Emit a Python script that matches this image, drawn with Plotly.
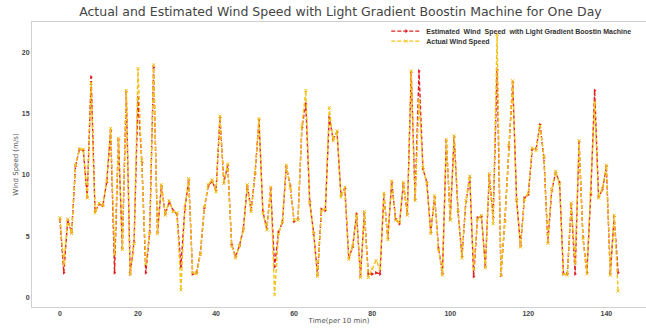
import plotly.graph_objects as go

time_idx = list(range(144))

actual = [6.5, 2.7, 6.4, 5.2, 10.8, 12.1, 12.1, 8.1, 17.5, 6.9,
          7.7, 7.5, 9.5, 13.8, 3.5, 13.0, 3.9, 16.9, 1.9, 4.4,
          18.7, 11.2, 2.7, 5.2, 19.0, 5.2, 9.2, 6.7, 7.9, 7.0,
          6.9, 0.6, 7.3, 9.7, 2.0, 1.9, 3.5, 7.4, 9.2, 9.6,
          8.6, 14.8, 9.3, 10.9, 4.2, 3.2, 4.2, 5.5, 9.2, 7.0,
          10.2, 14.6, 6.9, 5.5, 9.0, 0.2, 5.2, 6.2, 10.8, 9.0,
          6.3, 6.3, 14.0, 16.9, 7.7, 5.2, 1.7, 7.1, 7.2, 15.5,
          12.8, 13.6, 8.2, 9.0, 3.1, 4.2, 6.7, 1.6, 7.0, 1.6,
          2.3, 3.0, 2.3, 8.5, 4.7, 9.5, 6.3, 6.1, 9.4, 6.7,
          18.5, 7.9, 16.1, 10.6, 9.3, 5.2, 8.3, 3.9, 1.8, 12.9,
          6.3, 13.2, 7.1, 3.2, 7.9, 9.9, 2.3, 6.4, 6.7, 2.4,
          10.1, 6.0, 21.5, 1.8, 6.2, 12.4, 17.7, 7.9, 4.1, 8.0,
          8.5, 12.2, 12.0, 14.0, 11.5, 4.4, 8.8, 10.3, 9.3, 1.9,
          1.8, 7.7, 2.8, 12.8, 4.8, 1.9, 8.5, 15.9, 8.1, 8.9,
          10.8, 1.8, 6.7, 0.5]

estimated = [6.4, 2.0, 6.3, 5.3, 10.7, 12.1, 12.0, 8.2, 18.0, 7.0,
             7.6, 7.5, 9.4, 13.6, 2.0, 12.9, 4.0, 16.8, 1.9, 4.5,
             16.3, 11.0, 2.0, 5.3, 18.8, 5.3, 9.1, 6.8, 7.8, 7.1,
             6.8, 2.5, 7.2, 9.6, 1.9, 2.0, 3.6, 7.3, 9.1, 9.5,
             8.7, 14.7, 9.4, 10.8, 4.3, 3.3, 4.2, 5.6, 9.1, 7.1,
             10.1, 14.5, 7.0, 5.6, 8.9, 2.5, 5.3, 6.1, 10.7, 9.1,
             6.2, 6.4, 13.9, 15.8, 7.8, 5.3, 1.8, 7.2, 7.1, 14.7,
             12.9, 13.5, 8.3, 8.9, 3.2, 4.1, 6.8, 1.7, 6.9, 1.9,
             1.9, 2.0, 1.9, 8.4, 4.8, 9.4, 6.4, 6.0, 9.3, 6.8,
             18.4, 8.0, 18.5, 10.5, 9.4, 5.3, 8.2, 4.0, 1.9, 12.8,
             6.4, 13.1, 7.0, 3.3, 7.8, 9.8, 1.7, 6.5, 6.6, 2.5,
             10.0, 6.5, 18.6, 1.8, 6.3, 12.3, 17.6, 8.0, 4.2, 8.1,
             8.4, 12.1, 12.1, 14.1, 11.4, 4.5, 8.7, 10.2, 9.4, 1.9,
             1.9, 7.6, 1.9, 12.7, 4.9, 2.0, 8.4, 16.9, 8.2, 8.8,
             10.7, 1.9, 6.6, 2.0]

x_ticks = [0, 20, 40, 60, 80, 100, 120, 140]
y_ticks = [0, 5, 10, 15, 20]

title_text = "Actual and Estimated Wind Speed with Light Gradient Boostin Machine for One Day"
est_label = "Estimated  Wind  Speed  with Light Gradient Boostin Machine"
act_label = "Actual Wind Speed"

RED = "#e02020"
YEL = "#f2c21c"
DASH = "4px,2px"

fig = go.Figure()
fig.add_trace(go.Scatter(
    x=time_idx, y=estimated, mode="lines+markers", name=est_label, legend="legend",
    line=dict(color=RED, width=1.4, dash=DASH),
    marker=dict(symbol="triangle-right", size=3.5, color=RED),
))
fig.add_trace(go.Scatter(
    x=time_idx, y=actual, mode="lines+markers", name=act_label, legend="legend2",
    line=dict(color=YEL, width=1.4, dash=DASH),
    marker=dict(symbol="x-thin", size=3, color=YEL,
                line=dict(color=YEL, width=1)),
))

legend_font = dict(family="Liberation Sans", size=7, color="#333333", weight="bold")
legend_common = dict(xanchor="left", yanchor="middle", bgcolor="rgba(0,0,0,0)",
                     font=legend_font, itemwidth=30, borderwidth=0)

fig.update_layout(
    width=646, height=331,
    margin=dict(l=32, r=0, t=22, b=24),
    paper_bgcolor="white", plot_bgcolor="white",
    title=dict(text=title_text, x=0.527, xanchor="center", y=0.964, yanchor="middle",
               font=dict(family="DejaVu Sans", size=12.5, color="#444444")),
    showlegend=True,
    legend=dict(x=0.577, y=0.968, **legend_common),
    legend2=dict(x=0.577, y=0.933, **legend_common),
    font=dict(family="Liberation Sans"),
    hovermode=False,
)

fig.update_xaxes(
    range=[-7.15, 150.15], tickvals=x_ticks, ticktext=[str(v) for v in x_ticks],
    showgrid=False, zeroline=False, showline=True, mirror=True,
    linecolor="#d0d0d0", linewidth=1, ticks="", automargin=False,
    tickfont=dict(family="Liberation Sans", size=7, color="#444444", weight="bold"),
    title=dict(text="Time(per 10 min)", standoff=0,
               font=dict(family="DejaVu Sans", size=7, color="#555555")),
)
fig.update_yaxes(
    range=[-0.8, 22.5], tickvals=y_ticks, ticktext=[str(v) for v in y_ticks],
    showgrid=False, zeroline=False, showline=True, mirror=True,
    linecolor="#d0d0d0", linewidth=1, ticks="", automargin=False,
    tickfont=dict(family="Liberation Sans", size=7, color="#444444", weight="bold"),
    title=dict(text="Wind Speed (m/s)", standoff=2,
               font=dict(family="DejaVu Sans", size=7, color="#555555")),
)

fig.write_html("out.html", config={"displayModeBar": False},
               post_script="document.body.style.margin='0';")
